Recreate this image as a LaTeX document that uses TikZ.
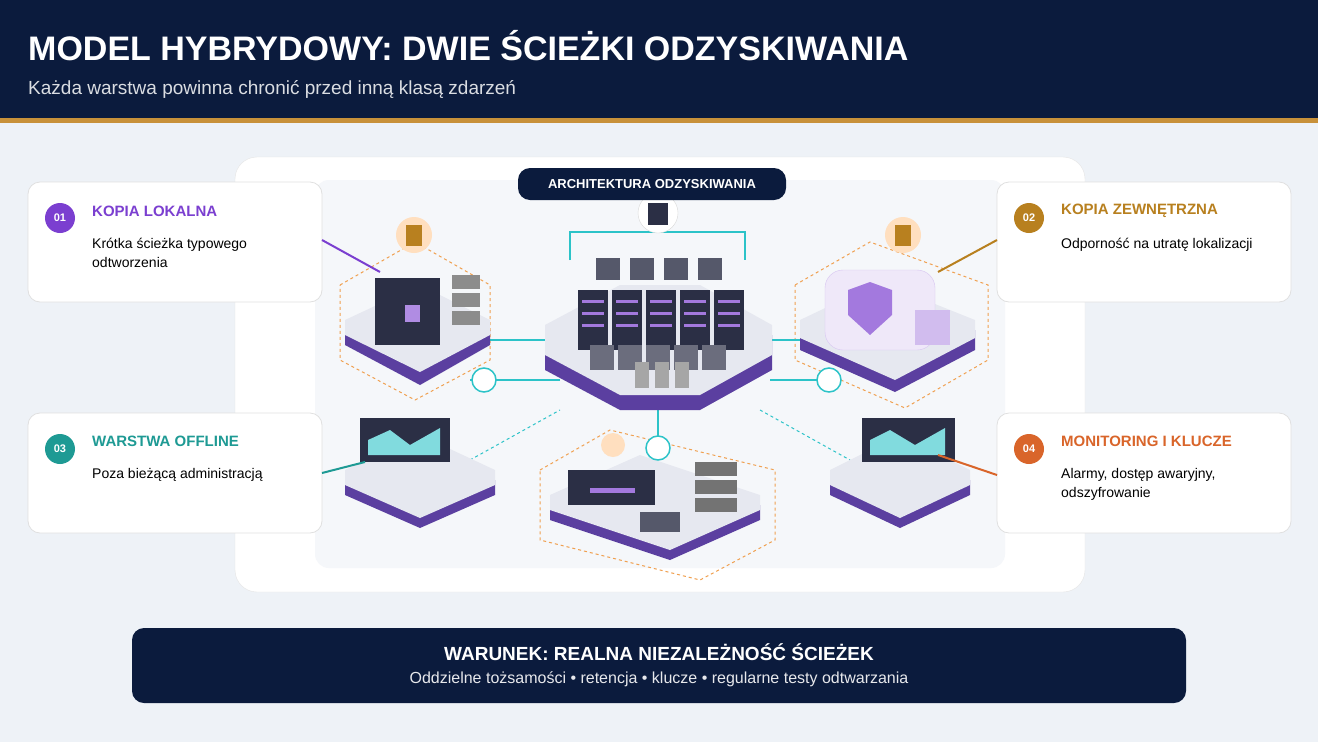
\documentclass[tikz,border=0pt]{standalone}
\usepackage{fontspec}
\setmainfont{Liberation Sans}
\usetikzlibrary{positioning}
\definecolor{navy}{HTML}{0B1B3D}
\definecolor{gold}{HTML}{C8913A}
\definecolor{bgc}{HTML}{EEF2F7}
\definecolor{violet}{HTML}{7B3FD0}
\definecolor{amber}{HTML}{B8801F}
\definecolor{tealc}{HTML}{1E9A94}
\definecolor{rust}{HTML}{D9652A}
\definecolor{cyanl}{HTML}{2CC3C8}
\definecolor{dashor}{HTML}{F0A050}
\definecolor{slab}{HTML}{E6E8F0}
\definecolor{slabside}{HTML}{5B3FA0}
\definecolor{rack}{HTML}{2B2F45}
\begin{document}
\begin{tikzpicture}[x=1pt,y=-1pt,
  card/.style={fill=white, draw=black!12, rounded corners=12pt, line width=0.8pt},
  num/.style={circle, fill=#1, minimum size=30pt, inner sep=0pt, text=white, font=\bfseries\fontsize{11}{12}\selectfont},
  ctitle/.style={anchor=west, inner sep=0pt, text=#1, font=\bfseries\fontsize{15}{17}\selectfont},
  ctext/.style={anchor=north west, inner sep=0pt, align=left, font=\fontsize{14}{19}\selectfont},
  hexd/.style={draw=dashor, dashed, line width=1pt},
  link/.style={draw=cyanl, line width=2pt},
  icon/.style={circle, fill=white, draw=cyanl, line width=1.5pt, minimum size=24pt}]

% background and header
\fill[bgc] (0,0) rectangle (1318,742);
\fill[navy] (0,0) rectangle (1318,118);
\fill[gold] (0,118) rectangle (1318,123);
\node[anchor=west, inner sep=0pt, text=white, font=\bfseries\fontsize{34}{38}\selectfont] (title) at (28,46) {MODEL HYBRYDOWY: DWIE ŚCIEŻKI ODZYSKIWANIA};
\node[anchor=west, inner sep=0pt, text=white!85!navy, font=\fontsize{19}{22}\selectfont] (subtitle) at (28,89) {Każda warstwa powinna chronić przed inną klasą zdarzeń};

% central panel
\draw[fill=white, draw=black!10, rounded corners=22pt] (235,157) rectangle (1085,592);
\fill[bgc!60!white, rounded corners=14pt] (315,180) rectangle (1005,568);

% dashed regions
\draw[hexd] (340,285) -- (415,242) -- (490,285) -- (490,360) -- (415,400) -- (340,360) -- cycle;
\draw[hexd] (795,285) -- (870,242) -- (988,285) -- (988,360) -- (905,408) -- (795,360) -- cycle;
\draw[hexd] (540,470) -- (610,430) -- (775,470) -- (775,540) -- (700,580) -- (540,540) -- cycle;

% links
\draw[link] (570,260) -- (570,232) -- (745,232) -- (745,260);
\draw[link] (440,340) -- (545,340);
\draw[link] (760,340) -- (870,340);
\draw[link] (470,380) -- (560,380);
\draw[link] (770,380) -- (830,380);
\draw[link] (658,400) -- (658,450);
\draw[cyanl, dashed, line width=1pt] (470,460) -- (560,410);
\draw[cyanl, dashed, line width=1pt] (760,410) -- (850,460);

% central platform
\fill[slabside] (545,335) -- (620,295) -- (700,295) -- (772,335) -- (772,370) -- (700,410) -- (620,410) -- (545,370) -- cycle;
\fill[slab] (545,325) -- (620,285) -- (700,285) -- (772,325) -- (772,355) -- (700,395) -- (620,395) -- (545,355) -- cycle;
\foreach \x in {578,612,646,680,714} {
  \fill[rack] (\x,290) rectangle ++(30,60);
  \fill[violet!70] (\x+4,300) rectangle ++(22,3);
  \fill[violet!70] (\x+4,312) rectangle ++(22,3);
  \fill[violet!70] (\x+4,324) rectangle ++(22,3);
}
\foreach \x in {596,630,664,698} \fill[rack!80] (\x,258) rectangle ++(24,22);
\foreach \x in {590,618,646,674,702} \fill[rack!70] (\x,345) rectangle ++(24,25);
\foreach \x in {635,655,675} \fill[black!35] (\x,362) rectangle ++(14,26);

% shield on top
\node[circle, fill=white, draw=black!15, minimum size=40pt] (lock) at (658,213) {};
\fill[rack] (648,203) rectangle (668,225);

% side platforms
\fill[slabside] (345,330) -- (420,295) -- (490,330) -- (490,345) -- (420,385) -- (345,345) -- cycle;
\fill[slab] (345,320) -- (420,285) -- (490,320) -- (490,335) -- (420,372) -- (345,335) -- cycle;
\fill[rack] (375,278) rectangle (440,345);
\fill[violet!60] (405,305) rectangle (420,322);
\foreach \y in {275,293,311} \fill[black!45] (452,\y) rectangle ++(28,14);
\node[circle, fill=orange!25, minimum size=36pt] (shieldA) at (414,235) {};
\fill[amber] (406,225) rectangle (422,246);

\fill[slabside] (800,330) -- (880,290) -- (975,330) -- (975,350) -- (895,392) -- (800,350) -- cycle;
\fill[slab] (800,320) -- (880,282) -- (975,320) -- (975,338) -- (895,380) -- (800,338) -- cycle;
\fill[violet!12, draw=violet!30, rounded corners=18pt] (825,270) rectangle (935,350);
\fill[violet!70] (848,290) -- (870,282) -- (892,290) -- (892,315) -- (870,335) -- (848,315) -- cycle;
\fill[violet!35] (915,310) rectangle (950,345);
\node[circle, fill=orange!25, minimum size=36pt] (shieldB) at (903,235) {};
\fill[amber] (895,225) rectangle (911,246);

\fill[slabside] (345,480) -- (420,445) -- (495,480) -- (495,495) -- (420,528) -- (345,495) -- cycle;
\fill[slab] (345,470) -- (420,435) -- (495,470) -- (495,485) -- (420,518) -- (345,485) -- cycle;
\fill[rack] (360,418) rectangle (450,462);
\fill[cyanl!60] (368,440) -- (390,430) -- (410,445) -- (440,428) -- (440,455) -- (368,455) -- cycle;

\fill[slabside] (830,480) -- (900,445) -- (970,480) -- (970,495) -- (900,528) -- (830,495) -- cycle;
\fill[slab] (830,470) -- (900,435) -- (970,470) -- (970,485) -- (900,518) -- (830,485) -- cycle;
\fill[rack] (862,418) rectangle (955,462);
\fill[cyanl!60] (870,440) -- (890,430) -- (915,445) -- (945,428) -- (945,455) -- (870,455) -- cycle;

\fill[slabside] (550,505) -- (640,465) -- (760,505) -- (760,520) -- (670,560) -- (550,520) -- cycle;
\fill[slab] (550,495) -- (640,455) -- (760,495) -- (760,510) -- (670,550) -- (550,510) -- cycle;
\fill[rack] (568,470) rectangle (655,505);
\fill[violet!70] (590,488) rectangle (635,493);
\foreach \y in {462,480,498} \fill[black!55] (695,\y) rectangle ++(42,14);
\fill[rack!80] (640,512) rectangle (680,532);
\node[circle, fill=orange!25, minimum size=24pt] (shieldC) at (613,445) {};

% link icons
\node[icon] (iconA) at (484,380) {};
\node[icon] (iconB) at (829,380) {};
\node[icon] (iconC) at (658,448) {};

% title pill
\node[fill=navy, text=white, rounded corners=12pt, minimum width=268pt, minimum height=32pt, font=\bfseries\fontsize{13}{15}\selectfont] (arch) at (652,184) {ARCHITEKTURA ODZYSKIWANIA};

% cards
\draw[card] (28,182) rectangle (322,302);
\node[num=violet] (n1) at (60,218) {01};
\node[ctitle=violet] (t1) at (92,211) {KOPIA LOKALNA};
\node[ctext] (d1) at (92,238) {Krótka ścieżka typowego\\odtworzenia};

\draw[card] (997,182) rectangle (1291,302);
\node[num=amber] (n2) at (1029,218) {02};
\node[ctitle=amber] (t2) at (1061,211) {KOPIA ZEWNĘTRZNA};
\node[ctext] (d2) at (1061,238) {Odporność na utratę lokalizacji};

\draw[card] (28,413) rectangle (322,533);
\node[num=tealc] (n3) at (60,449) {03};
\node[ctitle=tealc] (t3) at (92,441) {WARSTWA OFFLINE};
\node[ctext] (d3) at (92,468) {Poza bieżącą administracją};

\draw[card] (997,413) rectangle (1291,533);
\node[num=rust] (n4) at (1029,449) {04};
\node[ctitle=rust] (t4) at (1061,441) {MONITORING I KLUCZE};
\node[ctext] (d4) at (1061,468) {Alarmy, dostęp awaryjny,\\odszyfrowanie};

% card pointers
\coordinate (p1) at (380,272);
\coordinate (p2) at (938,272);
\coordinate (p3) at (365,462);
\coordinate (p4) at (938,455);
\draw[violet, line width=2pt] (322,240) -- (p1);
\draw[amber, line width=2pt] (997,240) -- (p2);
\draw[tealc, line width=2pt] (322,473) -- (p3);
\draw[rust, line width=2pt] (997,475) -- (p4);

% bottom banner
\fill[navy, rounded corners=12pt] (132,628) rectangle (1186,703);
\node[text=white, font=\bfseries\fontsize{19}{22}\selectfont] (cond) at (659,652) {WARUNEK: REALNA NIEZALEŻNOŚĆ ŚCIEŻEK};
\node[text=white!90!navy, font=\fontsize{16}{19}\selectfont] (condsub) at (659,679) {Oddzielne tożsamości • retencja • klucze • regularne testy odtwarzania};
\end{tikzpicture}
\end{document}
